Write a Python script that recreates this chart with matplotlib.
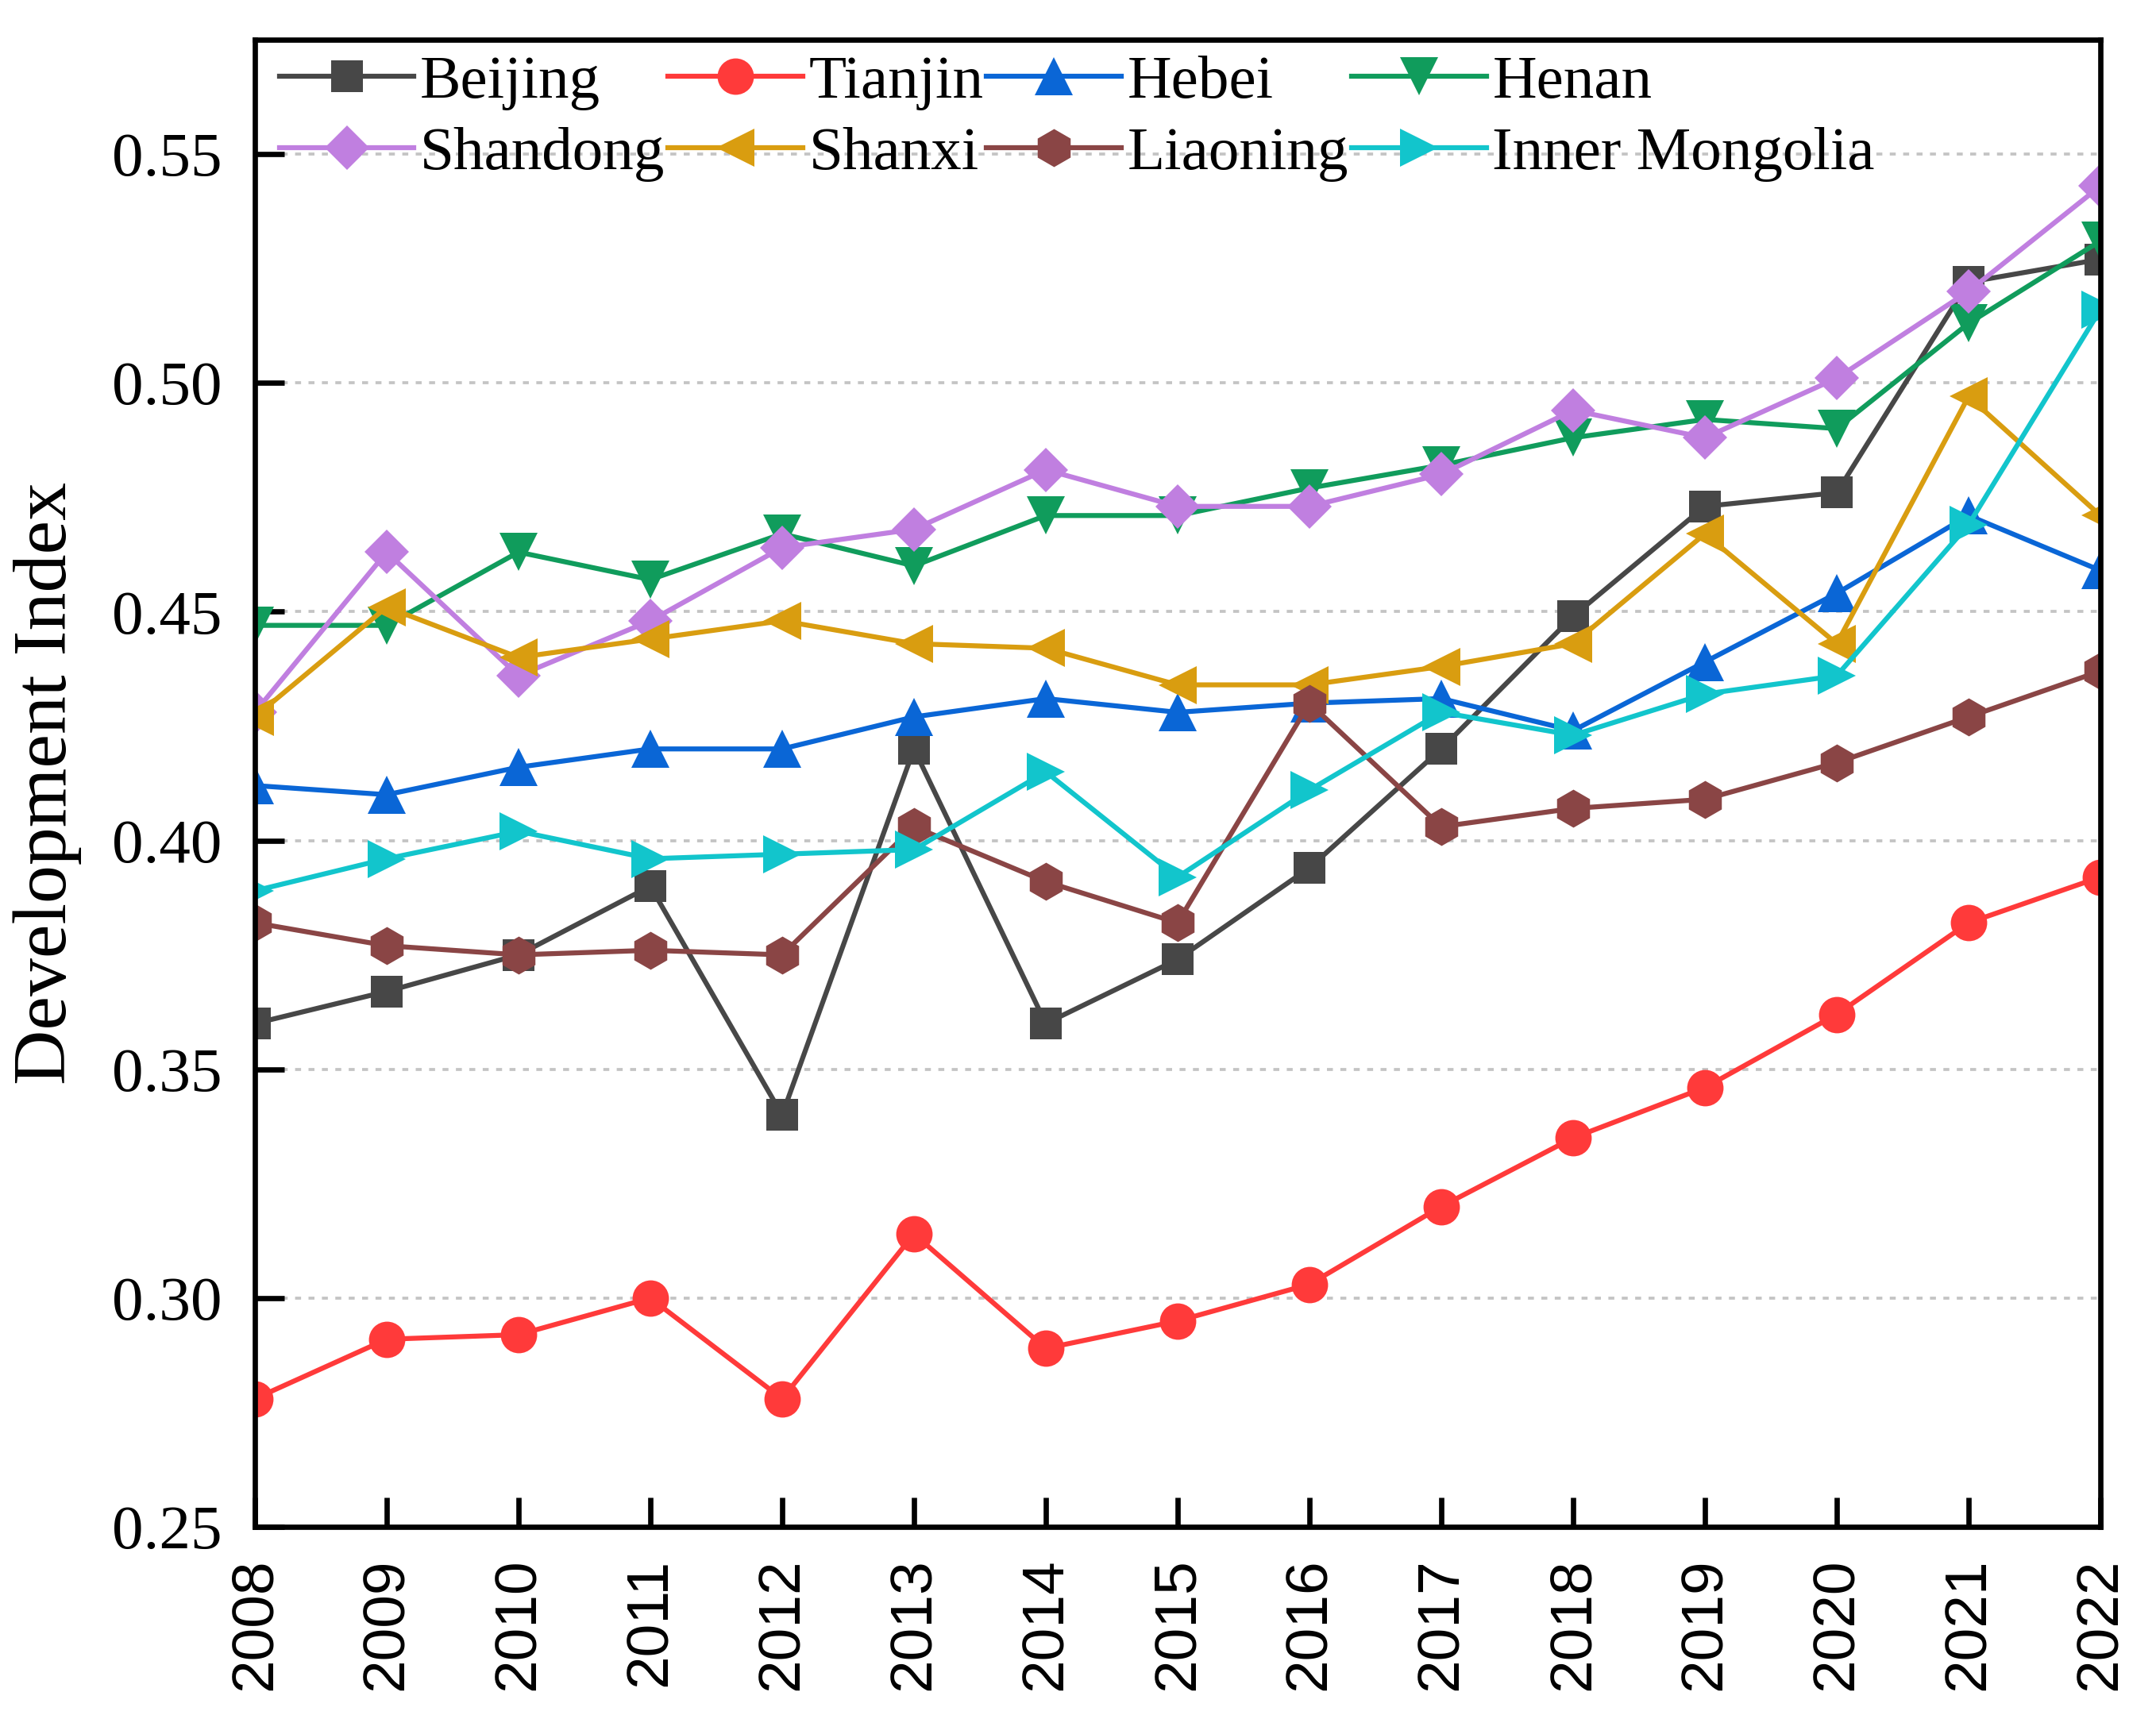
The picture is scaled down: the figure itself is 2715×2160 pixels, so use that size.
import matplotlib.pyplot as plt
import numpy as np

years = list(range(2008, 2023))

beijing = [0.360, 0.367, 0.375, 0.390, 0.340, 0.420, 0.360, 0.374, 0.394, 0.420, 0.449, 0.473, 0.476, 0.522, 0.527]
tianjin = [0.278, 0.291, 0.292, 0.300, 0.278, 0.314, 0.289, 0.295, 0.303, 0.320, 0.335, 0.346, 0.362, 0.382, 0.392]
hebei = [0.412, 0.410, 0.416, 0.420, 0.420, 0.427, 0.431, 0.428, 0.430, 0.431, 0.424, 0.439, 0.454, 0.471, 0.459]
henan = [0.447, 0.447, 0.463, 0.457, 0.467, 0.460, 0.471, 0.471, 0.477, 0.482, 0.488, 0.492, 0.490, 0.513, 0.531]
shandong = [0.428, 0.463, 0.436, 0.448, 0.464, 0.468, 0.481, 0.473, 0.473, 0.480, 0.494, 0.488, 0.501, 0.520, 0.543]
shanxi = [0.427, 0.451, 0.440, 0.444, 0.448, 0.443, 0.442, 0.434, 0.434, 0.438, 0.443, 0.467, 0.443, 0.497, 0.471]
liaoning = [0.382, 0.377, 0.375, 0.376, 0.375, 0.403, 0.391, 0.382, 0.430, 0.403, 0.407, 0.409, 0.417, 0.427, 0.437]
inner_mongolia = [0.389, 0.396, 0.402, 0.396, 0.397, 0.398, 0.415, 0.392, 0.411, 0.428, 0.423, 0.432, 0.436, 0.469, 0.516]

g_series = [
    ('Beijing', beijing, '#474747', 's', 9.5),
    ('Tianjin', tianjin, '#ff3a3a', 'o', 11),
    ('Hebei', hebei, '#0a66d6', '^', 11.5),
    ('Henan', henan, '#109c5c', 'v', 11.5),
    ('Shandong', shandong, '#c07fe0', 'D', 9.5),
    ('Shanxi', shanxi, '#d99d10', '<', 11.5),
    ('Liaoning', liaoning, '#8a4545', 'h', 11.5),
    ('Inner Mongolia', inner_mongolia, '#12c5cc', '>', 11.5),
]

plt.rcParams['font.family'] = ['Liberation Serif', 'DejaVu Serif']

fig = plt.figure(figsize=(9.05, 7.2), dpi=300)
ax = fig.add_axes([0.1182, 0.1097, 0.856, 0.8672])

g_handles = []
for i_name, i_vals, i_color, i_marker, i_ms in g_series:
    lp, = ax.plot(years, i_vals, color=i_color, marker=i_marker, markersize=i_ms,
                  linewidth=1.5, label=i_name, markeredgewidth=0)
    g_handles.append(lp)

ax.set_xlim(2008, 2022)
ax.set_ylim(0.25, 0.575)
ax.set_xticks(years)
ax.set_xticklabels([str(y) for y in years], rotation=90,
                   fontfamily='Liberation Sans', fontsize=18)
ax.set_yticks(np.arange(0.25, 0.551, 0.05))
ax.set_yticklabels([f'{v:.2f}' for v in np.arange(0.25, 0.551, 0.05)], fontsize=19)

for i_v in np.arange(0.30, 0.551, 0.05):
    ax.axhline(i_v, color='#c4c4c4', linestyle=(0, (2, 2.5)), linewidth=0.9, zorder=0)

for i_spine in ax.spines.values():
    i_spine.set_linewidth(1.6)
ax.tick_params(axis='both', direction='in', length=8.8, width=1.6,
               top=False, right=False)
ax.tick_params(axis='y', pad=10)
ax.tick_params(axis='x', pad=9.5)

ax.set_ylabel('Development Index', fontsize=23, labelpad=9)

# legend is filled column by column, so interleave the two rows
g_order = [0, 4, 1, 5, 2, 6, 3, 7]
ax.legend([g_handles[i] for i in g_order], [g_series[i][0] for i in g_order],
          ncol=4, loc='upper left', bbox_to_anchor=(0.0, 1.0065), frameon=False,
          fontsize=18.5, borderaxespad=0, borderpad=0.4, handlelength=2.2,
          handletextpad=0.1, columnspacing=0.05, labelspacing=0.26)

fig.savefig('out.png', dpi=300)
